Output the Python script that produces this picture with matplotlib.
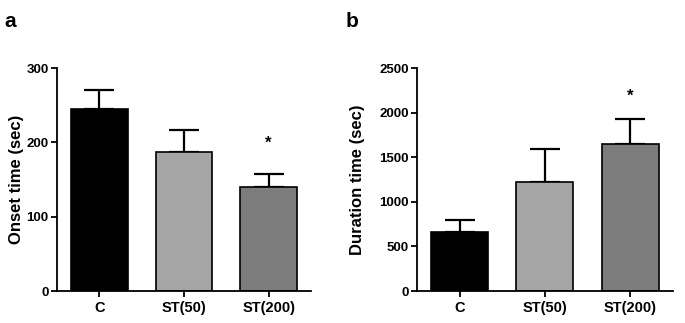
import matplotlib
matplotlib.use("Agg")
import matplotlib.pyplot as plt
from matplotlib import font_manager
import numpy as np

# Data
groups = ["C", "ST(50)", "ST(200)"]
onset_mean = [245, 187, 140]
onset_err = [25, 30, 17]
duration_mean = [659, 1227, 1647]
duration_err = [141, 364, 287]
bar_colors = ["#000000", "#a5a5a5", "#7d7d7d"]

installed = {f.name for f in font_manager.fontManager.ttflist}
narrow = "Liberation Sans Narrow" if "Liberation Sans Narrow" in installed else "Liberation Sans"

plt.rcParams["font.family"] = ["Liberation Sans", "DejaVu Sans"]
plt.rcParams["font.weight"] = "bold"

fig = plt.figure(figsize=(6.85, 3.23), dpi=100)
ax_a = fig.add_axes([0.083, 0.099, 0.371, 0.69])
ax_b = fig.add_axes([0.609, 0.099, 0.373, 0.69])


def draw_panel(ax, means, errs, ylabel, ymax, step, star_y, label_x):
    x = np.arange(len(groups))
    ax.bar(x, means, width=0.67, color=bar_colors, edgecolor="black", linewidth=1.2, zorder=2)
    ax.errorbar(x, means, yerr=[np.zeros(len(errs)), errs], fmt="none",
                ecolor="black", elinewidth=1.6, capsize=11, capthick=1.6, zorder=1)
    ax.text(2, star_y, "*", ha="center", va="center", fontsize=12, fontweight="bold")
    ax.set_xlim(-0.5, 2.5)
    ax.set_ylim(0, ymax)
    ax.set_yticks(np.arange(0, ymax + 1, step))
    ax.set_xticks(x)
    ax.set_xticklabels(groups, family=[narrow, "DejaVu Sans"], fontsize=10.5, fontweight="bold")
    for lbl in ax.get_yticklabels():
        lbl.set_family([narrow, "DejaVu Sans"])
        lbl.set_fontsize(9.5)
        lbl.set_fontweight("bold")
    ax.set_ylabel(ylabel, fontsize=12, fontweight="bold")
    ax.yaxis.set_label_coords(label_x, 0.5)
    ax.spines["top"].set_visible(False)
    ax.spines["right"].set_visible(False)
    ax.spines["left"].set_linewidth(1.3)
    ax.spines["bottom"].set_linewidth(1.3)
    ax.tick_params(axis="both", width=1.3, length=4, direction="out", pad=3)
    ax.tick_params(axis="y", pad=2)


draw_panel(ax_a, onset_mean, onset_err, "Onset time (sec)", 300, 100, 199, -0.13)
draw_panel(ax_b, duration_mean, duration_err, "Duration time (sec)", 2500, 500, 2181, -0.205)

fig.text(0.006, 0.915, "a", fontsize=15, fontweight="bold")
fig.text(0.505, 0.915, "b", fontsize=15, fontweight="bold")

fig.savefig("out.png", dpi=100)
